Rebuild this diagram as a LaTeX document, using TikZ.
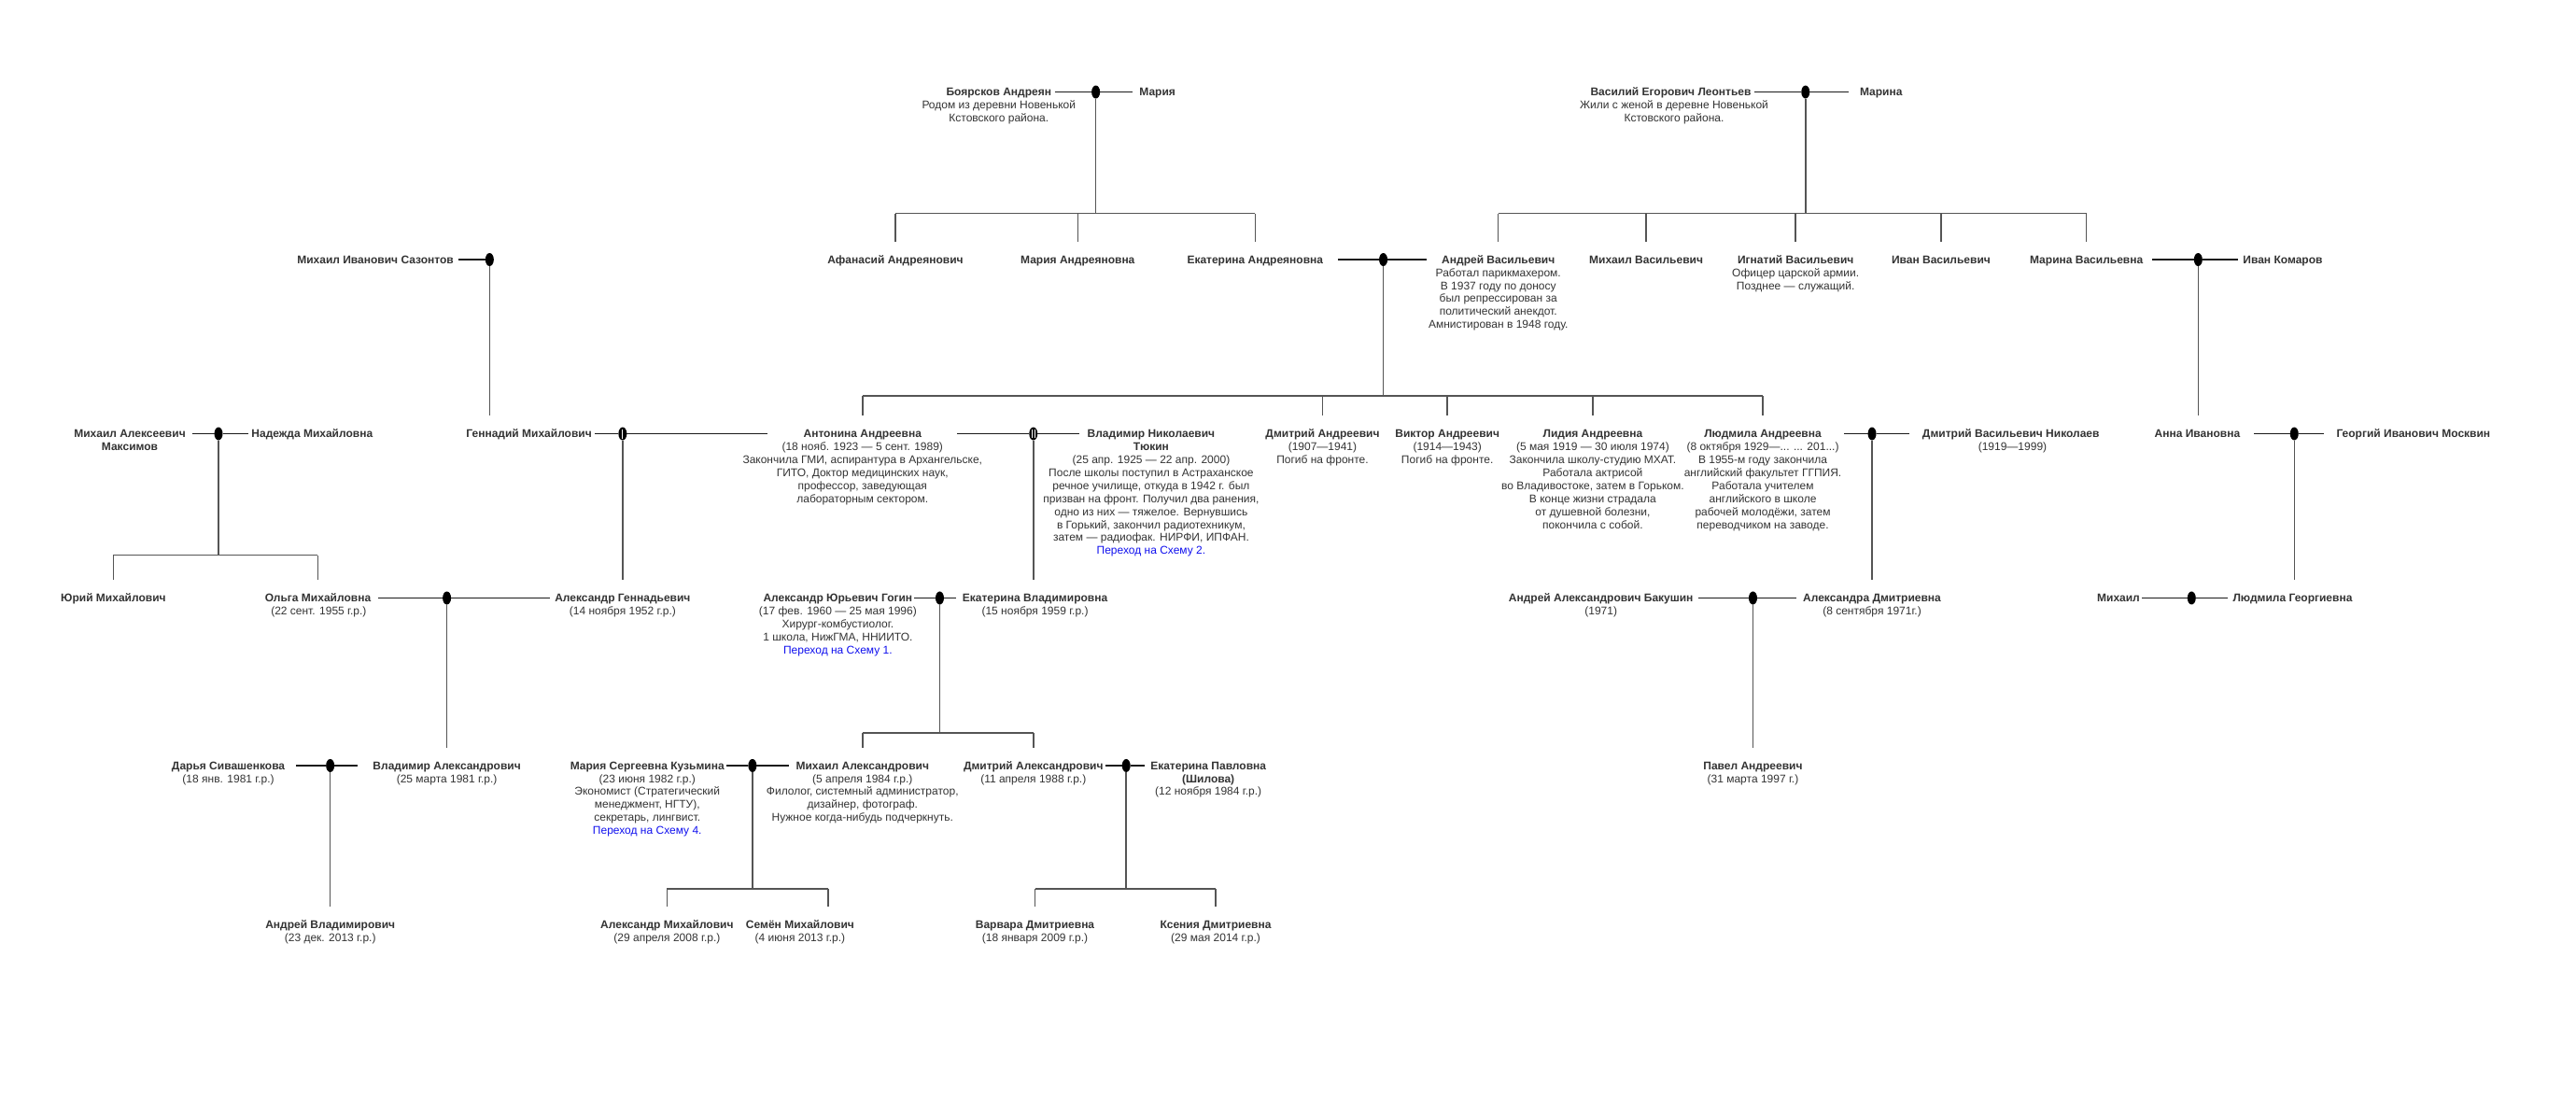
\documentclass[tikz,border=0pt]{standalone}
\usepackage{fontspec}
\setmainfont{Liberation Sans}
\usetikzlibrary{shapes.geometric,calc}
\definecolor{txtc}{HTML}{333333}
\definecolor{linkblue}{HTML}{1010EE}
\definecolor{cplc}{HTML}{1A1A1A}
\definecolor{vlc}{HTML}{555555}
\newcommand\dsc[1]{\begin{tabular}[t]{@{}c@{}}#1\end{tabular}}
\newcommand\golink[1]{\textcolor{linkblue}{#1}}
% couple: left name, dot, right name, left gap, right gap
\newcommand\couple[5]{%
  \draw[cpl, shorten <=#4] (#1.east |- #2) -- (#2);
  \draw[cpl, shorten >=#5] (#2) -- (#3.west |- #2);}
\begin{document}
\begin{tikzpicture}[x=1.7596pt,y=-1.7596pt,
  every node/.style={font=\fontsize{12}{13.9}\selectfont, text=txtc, inner sep=0pt, outer sep=0pt},
  nm/.style={font=\fontsize{12}{13.9}\selectfont\bfseries, anchor=base, text height=9pt, text depth=3pt},
  ds/.style={anchor=base},
  dot/.style={ellipse, fill=black, minimum width=9pt, minimum height=14pt},
  cpl/.style={draw=cplc, line width=1.3pt},
  vln/.style={draw=vlc, line width=1.5pt},
  ch/.style={vln, shorten >=14.5pt},
]
\useasboundingbox (0,0) rectangle (1568,668);

% ---------- row 0
\node[nm] (boy) at (608,58.4) {Боярсков Андреян};
\node[ds] (boyd) at (608,66.3) {\dsc{Родом из деревни Новенькой\\Кстовского района.}};
\node[dot] (dboy) at (667,56) {};
\node[nm] (mar0) at (704.5,58.4) {Мария};
\node[nm] (vas) at (1017,58.4) {Василий Егорович Леонтьев};
\node[ds] (vasd) at (1019,66.3) {\dsc{Жили с женой в деревне Новенькой\\Кстовского района.}};
\node[dot] (dvas) at (1099,56) {};
\node[nm] (mar1) at (1145,58.4) {Марина};

% ---------- row 1
\node[nm] (saz) at (228.5,160.4) {Михаил Иванович Сазонтов};
\node[dot] (dsaz) at (298,158) {};
\node[nm] (afa) at (545,160.4) {Афанасий Андреянович};
\node[nm] (mra) at (656,160.4) {Мария Андреяновна};
\node[nm] (eka) at (764,160.4) {Екатерина Андреяновна};
\node[dot] (deka) at (842,158) {};
\node[nm] (anv) at (912,160.4) {Андрей Васильевич};
\node[ds] (anvd) at (912,168.3) {\dsc{Работал парикмахером.\\В 1937 году по доносу\\был репрессирован за\\политический анекдот.\\Амнистирован в 1948 году.}};
\node[nm] (miv) at (1002,160.4) {Михаил Васильевич};
\node[nm] (ign) at (1093,160.4) {Игнатий Васильевич};
\node[ds] (ignd) at (1093,168.3) {\dsc{Офицер царской армии.\\Позднее — служащий.}};
\node[nm] (iva) at (1181.5,160.4) {Иван Васильевич};
\node[nm] (mav) at (1270,160.4) {Марина Васильевна};
\node[dot] (dmav) at (1338,158) {};
\node[nm] (kom) at (1389.5,160.4) {Иван Комаров};

% ---------- row 2
\node[nm] (max) at (79,266.4) {Михаил Алексеевич};
\node[ds] (maxd) at (79,274.3) {\dsc{\bfseries Максимов}};
\node[dot] (dmax) at (133,264) {};
\node[nm] (nad) at (190,266.4) {Надежда Михайловна};
\node[nm] (gen) at (322,266.4) {Геннадий Михайлович};
\node[dot] (dgen) at (379,264) {};
\node[nm] (ant) at (525,266.4) {Антонина Андреевна};
\node[ds] (antd) at (525,274.3) {\dsc{(18 нояб. 1923 — 5 сент. 1989)\\Закончила ГМИ, аспирантура в Архангельске,\\ГИТО, Доктор медицинских наук,\\профессор, заведующая\\лабораторным сектором.}};
\node[dot] (dant) at (629,264) {};
\node[nm] (tyu) at (700.7,266.4) {Владимир Николаевич};
\node[ds] (tyud) at (700.7,274.3) {\dsc{\textbf{Тюкин}\\(25 апр. 1925 — 22 апр. 2000)\\После школы поступил в Астраханское\\речное училище, откуда в 1942 г. был\\призван на фронт. Получил два ранения,\\одно из них — тяжелое. Вернувшись\\в Горький, закончил радиотехникум,\\затем — радиофак. НИРФИ, ИПФАН.\\\golink{Переход на Схему 2.}}};
\node[nm] (dma1) at (805,266.4) {Дмитрий Андреевич};
\node[ds] (dma1d) at (805,274.3) {\dsc{(1907—1941)\\Погиб на фронте.}};
\node[nm] (vik) at (881,266.4) {Виктор Андреевич};
\node[ds] (vikd) at (881,274.3) {\dsc{(1914—1943)\\Погиб на фронте.}};
\node[nm] (lid) at (969.5,266.4) {Лидия Андреевна};
\node[ds] (lidd) at (969.5,274.3) {\dsc{(5 мая 1919 — 30 июля 1974)\\Закончила школу-студию МХАТ.\\Работала актрисой\\во Владивостоке, затем в Горьком.\\В конце жизни страдала\\от душевной болезни,\\покончила с собой.}};
\node[nm] (lyu) at (1073,266.4) {Людмила Андреевна};
\node[ds] (lyud) at (1073,274.3) {\dsc{(8 октября 1929—... ... 201...)\\В 1955-м году закончила\\английский факультет ГГПИЯ.\\Работала учителем\\английского в школе\\рабочей молодёжи, затем\\переводчиком на заводе.}};
\node[dot] (dlyu) at (1139.5,264) {};
\node[nm] (nik) at (1224,266.4) {Дмитрий Васильевич Николаев};
\node[ds] (nikd) at (1225,274.3) {\dsc{(1919—1999)}};
\node[nm] (ann) at (1337.5,266.4) {Анна Ивановна};
\node[dot] (dann) at (1396.5,264) {};
\node[nm] (mos) at (1469,266.4) {Георгий Иванович Москвин};

% ---------- row 3
\node[nm] (yur) at (69,366.4) {Юрий Михайлович};
\node[nm] (olg) at (193.5,366.4) {Ольга Михайловна};
\node[ds] (olgd) at (194,374.3) {\dsc{(22 сент. 1955 г.р.)}};
\node[dot] (dolg) at (272,364) {};
\node[nm] (alg) at (379,366.4) {Александр Геннадьевич};
\node[ds] (algd) at (379,374.3) {\dsc{(14 ноября 1952 г.р.)}};
\node[nm] (gog) at (510,366.4) {Александр Юрьевич Гогин};
\node[ds] (gogd) at (510,374.3) {\dsc{(17 фев. 1960 — 25 мая 1996)\\Хирург-комбустиолог.\\1 школа, НижГМА, ННИИТО.\\\golink{Переход на Схему 1.}}};
\node[dot] (dgog) at (572,364) {};
\node[nm] (ekv) at (630,366.4) {Екатерина Владимировна};
\node[ds] (ekvd) at (630,374.3) {\dsc{(15 ноября 1959 г.р.)}};
\node[nm] (bak) at (974.5,366.4) {Андрей Александрович Бакушин};
\node[ds] (bakd) at (974.5,374.3) {\dsc{(1971)}};
\node[dot] (dbak) at (1067,364) {};
\node[nm] (ald) at (1139.5,366.4) {Александра Дмитриевна};
\node[ds] (aldd) at (1139.5,374.3) {\dsc{(8 сентября 1971г.)}};
\node[nm] (mi) at (1289.5,366.4) {Михаил};
\node[dot] (dmi) at (1334,364) {};
\node[nm] (lyg) at (1395.5,366.4) {Людмила Георгиевна};

% ---------- row 4
\node[nm] (dar) at (139,468.4) {Дарья Сивашенкова};
\node[ds] (dard) at (139,476.3) {\dsc{(18 янв. 1981 г.р.)}};
\node[dot] (ddar) at (201,466) {};
\node[nm] (vla) at (272,468.4) {Владимир Александрович};
\node[ds] (vlad) at (272,476.3) {\dsc{(25 марта 1981 г.р.)}};
\node[nm] (mas) at (394,468.4) {Мария Сергеевна Кузьмина};
\node[ds] (masd) at (394,476.3) {\dsc{(23 июня 1982 г.р.)\\Экономист (Стратегический\\менеджмент, НГТУ),\\секретарь, лингвист.\\\golink{Переход на Схему 4.}}};
\node[dot] (dmas) at (458,466) {};
\node[nm] (mia) at (525,468.4) {Михаил Александрович};
\node[ds] (miad) at (525,476.3) {\dsc{(5 апреля 1984 г.р.)\\Филолог, системный администратор,\\дизайнер, фотограф.\\Нужное когда-нибудь подчеркнуть.}};
\node[nm] (dal) at (629,468.4) {Дмитрий Александрович};
\node[ds] (dald) at (629,476.3) {\dsc{(11 апреля 1988 г.р.)}};
\node[dot] (ddal) at (685.5,466) {};
\node[nm] (ekp) at (735.5,468.4) {Екатерина Павловна};
\node[ds] (ekpd) at (735.5,476.3) {\dsc{\textbf{(Шилова)}\\(12 ноября 1984 г.р.)}};
\node[nm] (pav) at (1067,468.4) {Павел Андреевич};
\node[ds] (pavd) at (1067,476.3) {\dsc{(31 марта 1997 г.)}};

% ---------- row 5
\node[nm] (anw) at (201,565.4) {Андрей Владимирович};
\node[ds] (anwd) at (201,573.3) {\dsc{(23 дек. 2013 г.р.)}};
\node[nm] (alm) at (406,565.4) {Александр Михайлович};
\node[ds] (almd) at (406,573.3) {\dsc{(29 апреля 2008 г.р.)}};
\node[nm] (sem) at (487,565.4) {Семён Михайлович};
\node[ds] (semd) at (487,573.3) {\dsc{(4 июня 2013 г.р.)}};
\node[nm] (var) at (630,565.4) {Варвара Дмитриевна};
\node[ds] (vard) at (630,573.3) {\dsc{(18 января 2009 г.р.)}};
\node[nm] (kse) at (740,565.4) {Ксения Дмитриевна};
\node[ds] (ksed) at (740,573.3) {\dsc{(29 мая 2014 г.р.)}};

% ---------- bar coordinates
\coordinate (bb) at (667,130);
\coordinate (bv) at (1099,130);
\coordinate (be) at (842,241);
\coordinate (bm) at (133,338);
\coordinate (bg) at (572,446);
\coordinate (bs) at (458,541);
\coordinate (sr) at (504,541);
\coordinate (bd) at (685.5,541);

% ---------- couple lines
\couple{boy}{dboy}{mar0}{3.5pt}{7pt}
\couple{vas}{dvas}{mar1}{3.5pt}{12pt}
\draw[cpl, shorten <=5pt] (saz.east |- dsaz) -- (dsaz);
\couple{eka}{deka}{anv}{16pt}{16pt}
\couple{mav}{dmav}{kom}{10pt}{5pt}
\couple{max}{dmax}{nad}{7pt}{3.5pt}
\couple{gen}{dgen}{ant}{3.5pt}{39pt}
\couple{ant}{dant}{tyu}{38pt}{9pt}
\couple{lyu}{dlyu}{nik}{24pt}{14pt}
\couple{ann}{dann}{mos}{15pt}{14pt}
\couple{olg}{dolg}{alg}{8pt}{5pt}
\couple{gog}{dgog}{ekv}{2pt}{7pt}
\couple{bak}{dbak}{ald}{5pt}{7pt}
\couple{mi}{dmi}{lyg}{2pt}{6pt}
\couple{dar}{ddar}{vla}{12pt}{16pt}
\couple{mas}{dmas}{mia}{2.5pt}{8pt}
\couple{dal}{ddal}{ekp}{2pt}{6pt}

% ---------- stripes on special dots
\draw[white, line width=0.8pt] ([yshift=-2pt]dgen.north) -- ([yshift=2pt]dgen.south);
\draw[white, line width=0.7pt] ([xshift=-1.6pt,yshift=-2.5pt]dant.north) -- ([xshift=-1.6pt,yshift=2.5pt]dant.south);
\draw[white, line width=0.7pt] ([xshift=1.6pt,yshift=-2.5pt]dant.north) -- ([xshift=1.6pt,yshift=2.5pt]dant.south);

% ---------- family bars and drops
\draw[vln] (dboy) -- (bb);
\draw[vln] (afa |- bb) -- (eka |- bb);
\foreach \c in {afa,mra,eka} \draw[ch] (\c |- bb) -- (\c.north);

\draw[vln] (dvas) -- (bv);
\draw[vln] (anv |- bv) -- (mav |- bv);
\foreach \c in {anv,miv,ign,iva,mav} \draw[ch] (\c |- bv) -- (\c.north);

\draw[vln] (deka) -- (be);
\draw[vln] (ant |- be) -- (lyu |- be);
\foreach \c in {ant,dma1,vik,lid,lyu} \draw[ch] (\c |- be) -- (\c.north);

\draw[vln] (dmax) -- (bm);
\draw[vln] (yur |- bm) -- (olg |- bm);
\foreach \c in {yur,olg} \draw[ch] (\c |- bm) -- (\c.north);

\draw[vln] (dgog) -- (bg);
\draw[vln] (mia |- bg) -- (dal |- bg);
\foreach \c in {mia,dal} \draw[ch] (\c |- bg) -- (\c.north);

\draw[vln] (dmas) -- (bs);
\draw[vln] (alm |- bs) -- (sr);
\draw[ch] (alm |- bs) -- (alm.north);
\draw[ch] (sr) -- (sr |- sem.north);

\draw[vln] (ddal) -- (bd);
\draw[vln] (var |- bd) -- (kse |- bd);
\foreach \c in {var,kse} \draw[ch] (\c |- bd) -- (\c.north);

% ---------- single-child lines
\draw[ch] (dsaz) -- (dsaz |- gen.north);
\draw[ch] (dmav) -- (dmav |- ann.north);
\draw[ch] (dgen) -- (dgen |- alg.north);
\draw[ch] (dant) -- (dant |- ekv.north);
\draw[ch] (dlyu) -- (dlyu |- ald.north);
\draw[ch] (dann) -- (dann |- lyg.north);
\draw[ch] (dolg) -- (dolg |- vla.north);
\draw[ch] (dbak) -- (dbak |- pav.north);
\draw[ch] (ddar) -- (ddar |- anw.north);
\end{tikzpicture}
\end{document}
